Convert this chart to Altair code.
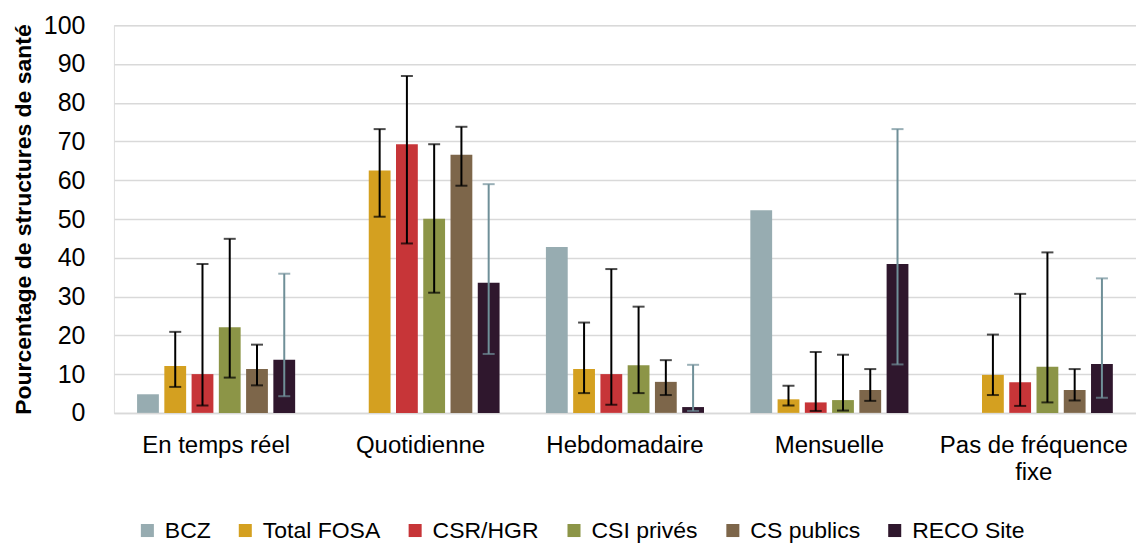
import altair as alt
import pandas as pd

categories = ["En temps réel", "Quotidienne", "Hebdomadaire", "Mensuelle", "Pas de fréquence fixe"]
series = ["BCZ", "Total FOSA", "CSR/HGR", "CSI privés", "CS publics", "RECO Site"]
colors = ["#97ACB1", "#D4A020", "#C73538", "#8C9547", "#7D664A", "#2F172D"]

bcz = [4.8, None, 42.8, 52.3, None]
fosa = [12.1, 62.5, 11.3, 3.5, 9.8]
csr = [10.0, 69.3, 10.0, 2.7, 7.9]
csi = [22.1, 50.1, 12.3, 3.3, 11.9]
cspub = [11.3, 66.6, 8.0, 5.9, 5.9]
reco = [13.7, 33.6, 1.5, 38.4, 12.6]

bcz_lo = [None, None, None, None, None]
bcz_hi = [None, None, None, None, None]
fosa_lo = [6.7, 50.6, 5.1, 1.9, 4.6]
fosa_hi = [20.9, 73.2, 23.3, 7.0, 20.2]
csr_lo = [1.9, 43.7, 2.1, 0.5, 1.8]
csr_hi = [38.4, 86.9, 37.1, 15.7, 30.7]
csi_lo = [9.1, 31.0, 5.1, 0.6, 2.7]
csi_hi = [44.9, 69.3, 27.4, 15.0, 41.4]
cspub_lo = [7.1, 58.6, 4.6, 3.1, 3.2]
cspub_hi = [17.6, 73.8, 13.6, 11.3, 11.3]
reco_lo = [4.3, 15.2, 0.5, 12.5, 3.9]
reco_hi = [35.9, 59.0, 12.4, 73.2, 34.7]

vals = [bcz, fosa, csr, csi, cspub, reco]
los = [bcz_lo, fosa_lo, csr_lo, csi_lo, cspub_lo, reco_lo]
his = [bcz_hi, fosa_hi, csr_hi, csi_hi, cspub_hi, reco_hi]

rows = []
for s, v, lo, hi in zip(series, vals, los, his):
    for i, c in enumerate(categories):
        rows.append({"cat": c, "serie": s, "val": v[i], "lo": lo[i], "hi": hi[i]})
df = pd.DataFrame(rows)

FONT = "Liberation Sans"
Y_TITLE = "Pourcentage de structures de santé"

x_enc = alt.X(
    "cat:N",
    sort=categories,
    scale=alt.Scale(paddingInner=0.2, paddingOuter=0.1),
    axis=alt.Axis(
        title=None,
        labelAngle=0,
        labelFontSize=24,
        labelFont=FONT,
        labelColor="#000000",
        labelPadding=21,
        labelLineHeight=27,
        labelLimit=400,
        ticks=False,
        domainColor="#D9D9D9",
        domainWidth=1.5,
        labelExpr="datum.value == 'Pas de fréquence fixe' ? ['Pas de fréquence', 'fixe'] : datum.value",
    ),
)
xo_enc = alt.XOffset("serie:N", sort=series, scale=alt.Scale(paddingInner=0.2, paddingOuter=0.1))

y_scale = alt.Scale(domain=[0, 100])
y_axis = alt.Axis(
    title=Y_TITLE,
    titleFontSize=23,
    titleFont=FONT,
    titleFontWeight="bold",
    titleColor="#000000",
    titlePadding=8,
    values=list(range(0, 101, 10)),
    labelOverlap=False,
    labelFontSize=25,
    labelFont=FONT,
    labelColor="#000000",
    labelPadding=29,
    ticks=False,
    domain=False,
    gridColor="#D9D9D9",
    gridWidth=1.5,
)

bars = alt.Chart(df).transform_filter("isValid(datum.val)").mark_bar().encode(
    x=x_enc,
    xOffset=xo_enc,
    y=alt.Y("val:Q", scale=y_scale, axis=y_axis, title=Y_TITLE),
    color=alt.Color(
        "serie:N",
        sort=series,
        scale=alt.Scale(domain=series, range=colors),
        legend=alt.Legend(
            title=None,
            orient="none",
            direction="horizontal",
            legendX=22,
            legendY=494,
            symbolType="square",
            symbolSize=170,
            symbolStrokeWidth=0,
            labelFontSize=23,
            labelFont=FONT,
            labelColor="#000000",
            labelOffset=6,
            columnPadding=23,
        ),
    ),
)

err_color = alt.condition(alt.datum.serie == "RECO Site", alt.value("#6F8F98"), alt.value("#000000"))

err_base = alt.Chart(df).transform_filter("isValid(datum.lo)")

rules = err_base.mark_rule(strokeWidth=2).encode(
    x=x_enc,
    xOffset=xo_enc,
    y=alt.Y("lo:Q", scale=y_scale, axis=y_axis, title=Y_TITLE),
    y2="hi:Q",
    color=err_color,
)
caps_hi = err_base.mark_tick(size=12, thickness=2).encode(
    x=x_enc,
    xOffset=xo_enc,
    y=alt.Y("hi:Q", scale=y_scale, axis=y_axis, title=Y_TITLE),
    color=err_color,
)
caps_lo = err_base.mark_tick(size=12, thickness=2).encode(
    x=x_enc,
    xOffset=xo_enc,
    y=alt.Y("lo:Q", scale=y_scale, axis=y_axis, title=Y_TITLE),
    color=err_color,
)

chart = alt.layer(bars, rules, caps_hi, caps_lo).properties(
    width=1023,
    height=388,
    padding={"left": 4, "top": 5, "right": 0, "bottom": 0},
).configure_view(stroke=None).configure(background="white")

chart.save("out.html", embed_options={"renderer": "svg", "actions": False})
